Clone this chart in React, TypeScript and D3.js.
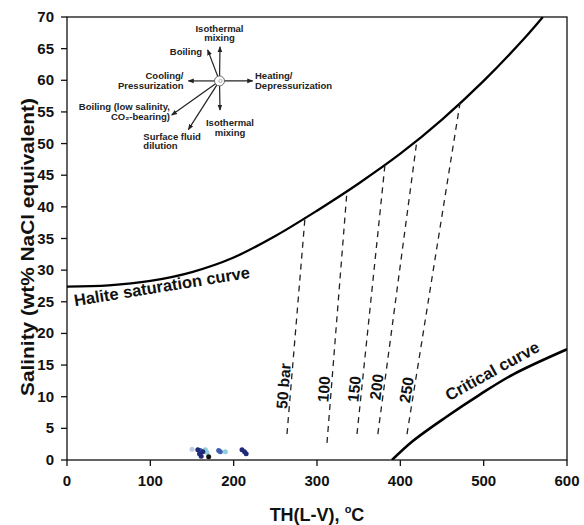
import React from "react";
import * as d3 from "d3";

// ---------- data ----------
const xTicks = [0, 100, 200, 300, 400, 500, 600];
const yTicks = [0, 5, 10, 15, 20, 25, 30, 35, 40, 45, 50, 55, 60, 65, 70];

const haliteT = [0, 50, 100, 150, 200, 250, 300, 350, 400, 450, 500, 550, 571];
const haliteS = [27.4, 27.6, 28.3, 29.7, 32.0, 35.4, 39.4, 43.7, 48.4, 53.8, 59.9, 66.8, 70];

const criticalT = [390, 415, 455, 495, 535, 600];
const criticalS = [0, 3.0, 6.8, 10.3, 13.5, 17.5];

const isobarLabels = ["50 bar", "100", "150", "200", "250"];
const isobarTopT = [285.6, 336, 381.6, 420, 471.6];
const isobarTopS = [38.3, 42.5, 46.7, 50.6, 56.4];
const isobarBottomT = [264, 312, 348, 373, 408];
const isobarBottomS = [4.1, 2.7, 4.1, 4.1, 4.1];
const isobarLabelS = [11.6, 11.1, 11.1, 11.4, 10.9];

const incLightT = [150];
const incLightS = [1.7];
const incNavyT = [157, 159, 161, 163, 210, 213, 215];
const incNavyS = [1.6, 1.0, 0.6, 1.3, 1.6, 1.3, 1.0];
const incBlueT = [160, 182, 184];
const incBlueS = [1.5, 1.5, 1.3];
const incCyanT = [166, 168, 190];
const incCyanS = [1.6, 1.2, 1.3];
const incBlackT = [170];
const incBlackS = [0.5];

// inset (trend diagram), in data units
const insetCenter = [183, 59.9];
const arrowTipT = [183.6, 168.8, 145.6, 222.8, 183.6, 125.6, 145.6];
const arrowTipS = [65.3, 64.8, 59.9, 59.9, 55.3, 54.5, 52.2];
const insetLabels = [
  ["Isothermal", "mixing"],
  ["Boiling"],
  ["Cooling/", "Pressurization"],
  ["Heating/", "Depressurization"],
  ["Isothermal", "mixing"],
  ["Boiling (low salinity,", "CO\u2082-bearing)"],
  ["Surface fluid", "dilution"],
];
const insetLabelT = [183, 162, 139.8, 225.6, 195.6, 123.6, 91.6];
const insetLabelS = [67.7, 64.0, 60.15, 60.15, 52.8, 55.3, 50.6];
const insetAnchor = ["middle", "end", "end", "start", "middle", "end", "start"];

// ---------- layout ----------
const W = 584;
const H = 525;
const M = { left: 67, right: 17, top: 17, bottom: 65 };
const FONT = "'Liberation Sans', Arial, sans-serif";

export default function App() {
  const x = d3.scaleLinear().domain([0, 600]).range([M.left, W - M.right]);
  const y = d3.scaleLinear().domain([0, 70]).range([H - M.bottom, M.top]);

  const line = d3
    .line<[number, number]>()
    .x((d) => x(d[0]))
    .y((d) => y(d[1]))
    .curve(d3.curveCatmullRom.alpha(0.5));

  const halitePath = line(haliteT.map((t, i) => [t, haliteS[i]]) as [number, number][]);
  const criticalPath = line(criticalT.map((t, i) => [t, criticalS[i]]) as [number, number][]);

  const groups = [
    { t: incLightT, s: incLightS, c: "#bfcbe0" },
    { t: incCyanT, s: incCyanS, c: "#8fcfdc" },
    { t: incBlueT, s: incBlueS, c: "#3d5fb0" },
    { t: incNavyT, s: incNavyS, c: "#1f2a78" },
    { t: incBlackT, s: incBlackS, c: "#111111" },
  ];

  const cx = x(insetCenter[0]);
  const cy = y(insetCenter[1]);

  return (
    <svg
      width={W}
      height={H}
      style={{ position: "absolute", left: 0, top: 0, background: "#fff" }}
      fontFamily={FONT}
    >
      <defs>
        <marker id="ah" viewBox="0 0 10 10" refX="9" refY="5" markerWidth="5" markerHeight="5" orient="auto">
          <path d="M0,1 L10,5 L0,9 Z" fill="#222" />
        </marker>
        <clipPath id="plot">
          <rect x={M.left} y={M.top} width={W - M.left - M.right} height={H - M.top - M.bottom} />
        </clipPath>
      </defs>

      {/* frame */}
      <rect
        x={M.left}
        y={M.top}
        width={W - M.left - M.right}
        height={H - M.top - M.bottom}
        fill="none"
        stroke="#111"
        strokeWidth={1.3}
      />

      {/* x ticks */}
      {xTicks.map((t) => (
        <g key={"x" + t}>
          <line x1={x(t)} x2={x(t)} y1={y(0)} y2={y(0) + 6} stroke="#111" strokeWidth={1.3} />
          <text x={x(t)} y={y(0) + 26} textAnchor="middle" fontSize={15} fontWeight="bold" fill="#111">
            {t}
          </text>
        </g>
      ))}
      {/* y ticks */}
      {yTicks.map((t) => (
        <g key={"y" + t}>
          <line x1={x(0) - 6} x2={x(0)} y1={y(t)} y2={y(t)} stroke="#111" strokeWidth={1.3} />
          <text x={x(0) - 13} y={y(t) + 5} textAnchor="end" fontSize={15} fontWeight="bold" fill="#111">
            {t}
          </text>
        </g>
      ))}

      {/* axis titles */}
      <text x={(x(0) + x(600)) / 2} y={521} textAnchor="middle" fontSize={18} fontWeight="bold" fill="#111">
        TH(L-V),{" "}
        <tspan fontSize={11} dy={-8}>
          o
        </tspan>
        <tspan dy={8}>C</tspan>
      </text>
      <text
        transform={`translate(34,247) rotate(-90)`}
        textAnchor="middle"
        fontSize={18}
        fontWeight="bold"
        fill="#111"
        textLength={298}
        lengthAdjust="spacingAndGlyphs"
      >
        Salinity (wt% NaCl equivalent)
      </text>

      <g clipPath="url(#plot)">
        {/* halite saturation curve */}
        <path d={halitePath || ""} fill="none" stroke="#000" strokeWidth={2.3} />
        {/* critical curve */}
        <path d={criticalPath || ""} fill="none" stroke="#000" strokeWidth={2.6} />

        {/* isobars */}
        {isobarLabels.map((lab, i) => (
          <line
            key={"iso" + i}
            x1={x(isobarBottomT[i])}
            y1={y(isobarBottomS[i])}
            x2={x(isobarTopT[i])}
            y2={y(isobarTopS[i])}
            stroke="#222"
            strokeWidth={1.3}
            strokeDasharray="6,5"
          />
        ))}

        {/* fluid inclusion points */}
        {groups.map((g, gi) =>
          g.t.map((t, i) => (
            <circle key={`p${gi}-${i}`} cx={x(t)} cy={y(g.s[i])} r={2.5} fill={g.c} />
          ))
        )}
      </g>

      {/* isobar labels */}
      {isobarLabels.map((lab, i) => {
        const x1 = x(isobarBottomT[i]);
        const y1 = y(isobarBottomS[i]);
        const x2 = x(isobarTopT[i]);
        const y2 = y(isobarTopS[i]);
        const ly = y(isobarLabelS[i]);
        const f = (ly - y1) / (y2 - y1);
        const lx = x1 + f * (x2 - x1);
        const ang = (Math.atan2(y2 - y1, x2 - x1) * 180) / Math.PI;
        return (
          <text
            key={"isol" + i}
            transform={`translate(${lx},${ly}) rotate(${ang})`}
            textAnchor="middle"
            dy={-2}
            fontSize={15.5}
            fontWeight="bold"
            fill="#111"
          >
            {lab}
          </text>
        );
      })}

      {/* curve labels */}
      <text
        transform={`translate(${x(9.6)},${y(24.3)}) rotate(-9.2)`}
        fontSize={16.5}
        fontWeight="bold"
        fill="#111"
      >
        Halite saturation curve
      </text>
      <text
        transform={`translate(${x(513.6)},${y(13.3)}) rotate(-29)`}
        textAnchor="middle"
        fontSize={16.5}
        fontWeight="bold"
        fill="#111"
      >
        Critical curve
      </text>

      {/* inset trend diagram */}
      {arrowTipT.map((t, i) => (
        <line
          key={"ar" + i}
          x1={cx}
          y1={cy}
          x2={x(t)}
          y2={y(arrowTipS[i])}
          stroke="#222"
          strokeWidth={1.2}
          markerEnd="url(#ah)"
        />
      ))}
      <circle cx={cx} cy={cy} r={5} fill="#fff" stroke="#666" strokeWidth={1} />
      <circle cx={cx + 1} cy={cy} r={1.6} fill="none" stroke="#999" strokeWidth={0.8} />
      {insetLabels.map((lines, i) => (
        <text
          key={"il" + i}
          x={x(insetLabelT[i])}
          y={y(insetLabelS[i])}
          textAnchor={insetAnchor[i] as any}
          fontSize={9.5}
          fontWeight="bold"
          fill="#222"
        >
          {lines.map((l, j) => (
            <tspan key={j} x={x(insetLabelT[i])} dy={j === 0 ? 0 : 9.7}>
              {l}
            </tspan>
          ))}
        </text>
      ))}
    </svg>
  );
}
